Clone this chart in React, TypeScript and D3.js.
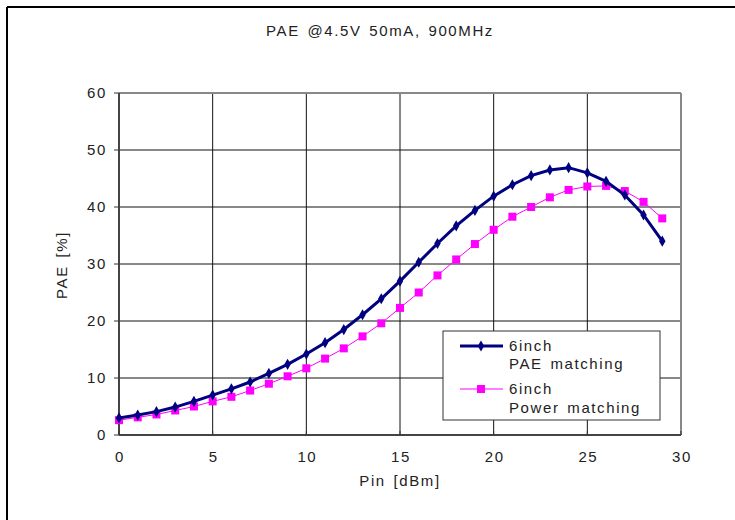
import React from 'react';
import * as d3 from 'd3';

const pinValues = d3.range(0, 30);
const paeMatching = [
  3.0, 3.5, 4.1, 4.9, 5.9, 7.0, 8.1, 9.3, 10.8, 12.4,
  14.2, 16.2, 18.5, 21.1, 23.9, 27.0, 30.3, 33.6, 36.7, 39.4,
  41.9, 43.9, 45.5, 46.5, 46.9, 46.0, 44.5, 42.1, 38.6, 34.0
];
const powerMatching = [
  2.6, 3.1, 3.6, 4.3, 5.0, 5.9, 6.7, 7.8, 9.0, 10.3,
  11.7, 13.4, 15.2, 17.3, 19.6, 22.3, 25.0, 28.0, 30.8, 33.5,
  36.0, 38.3, 40.0, 41.7, 43.0, 43.6, 43.7, 42.8, 40.9, 38.0
];
const xTicks = [0, 5, 10, 15, 20, 25, 30];
const yTicks = [0, 10, 20, 30, 40, 50, 60];

const width = 735;
const height = 520;
const font = 'Liberation Sans, Arial, sans-serif';
const textProps = { fontSize: 15, letterSpacing: 1.6, wordSpacing: 2, fill: '#222' };

export default function App() {
  const x = d3.scaleLinear().domain([0, 30]).range([119, 681]);
  const y = d3.scaleLinear().domain([0, 60]).range([435, 93]);

  const line = d3
    .line<number>()
    .x((d, i) => x(pinValues[i]))
    .y(d => y(d));

  const diamond = d3.symbol().type(d3.symbolDiamond).size(36)();

  return (
    <div style={{ position: 'absolute', left: 0, top: 0 }}>
      <svg width={width} height={height} fontFamily={font}>
        <rect width={width} height={height} fill="#fff" />
        {/* outer frame */}
        <line x1={7} y1={7} x2={735} y2={7} stroke="#000" strokeWidth={2} />
        <line x1={7} y1={7} x2={7} y2={520} stroke="#000" strokeWidth={2} />

        <text x={380} y={36} textAnchor="middle" {...textProps}>
          PAE @4.5V 50mA, 900MHz
        </text>

        {/* grid */}
        {xTicks.slice(1, -1).map(t => (
          <line key={'gx' + t} x1={x(t)} x2={x(t)} y1={y(60)} y2={y(0)} stroke="#111" strokeWidth={1} />
        ))}
        {yTicks.slice(1, -1).map(t => (
          <line key={'gy' + t} x1={x(0)} x2={x(30)} y1={y(t)} y2={y(t)} stroke="#111" strokeWidth={1} />
        ))}
        {/* plot border */}
        <line x1={x(0)} x2={x(30)} y1={y(60)} y2={y(60)} stroke="#888" strokeWidth={2} />
        <line x1={x(30)} x2={x(30)} y1={y(60)} y2={y(0)} stroke="#888" strokeWidth={2} />
        <line x1={x(0)} x2={x(0)} y1={y(60)} y2={y(0)} stroke="#444" strokeWidth={2} />
        <line x1={x(0)} x2={x(30)} y1={y(0)} y2={y(0)} stroke="#444" strokeWidth={2} />

        {/* y ticks */}
        {yTicks.map(t => (
          <g key={'yt' + t}>
            <line x1={x(0) - 5} x2={x(0)} y1={y(t)} y2={y(t)} stroke="#333" />
            <text x={107} y={y(t) + 5} textAnchor="end" {...textProps}>{t}</text>
          </g>
        ))}
        {/* x ticks */}
        {xTicks.map(t => (
          <g key={'xt' + t}>
            <line x1={x(t)} x2={x(t)} y1={y(0)} y2={y(0) - 4} stroke="#333" />
            <text x={x(t) + 1} y={462} textAnchor="middle" {...textProps}>{t}</text>
          </g>
        ))}

        <text x={400} y={486} textAnchor="middle" {...textProps}>Pin [dBm]</text>
        <text transform="translate(67,265) rotate(-90)" textAnchor="middle" {...textProps}>
          PAE [%]
        </text>

        {/* series */}
        <path d={line(powerMatching) || ''} fill="none" stroke="#ff00ff" strokeWidth={1} />
        {powerMatching.map((v, i) => (
          <rect key={'pm' + i} x={x(pinValues[i]) - 4} y={y(v) - 4} width={8} height={8} fill="#ff00ff" />
        ))}
        <path d={line(paeMatching) || ''} fill="none" stroke="#000080" strokeWidth={3} />
        {paeMatching.map((v, i) => (
          <path key={'pa' + i} d={diamond || ''} transform={`translate(${x(pinValues[i])},${y(v)})`} fill="#000080" />
        ))}

        {/* legend */}
        <rect x={443} y={331} width={217} height={89} fill="#fff" stroke="#333" strokeWidth={1} />
        <line x1={460} x2={503} y1={346} y2={346} stroke="#000080" strokeWidth={3} />
        <path d={diamond || ''} transform="translate(481,346)" fill="#000080" />
        <text x={509} y={351} {...textProps}>6inch</text>
        <text x={509} y={369} {...textProps}>PAE matching</text>
        <line x1={460} x2={503} y1={389} y2={389} stroke="#ff00ff" strokeWidth={1} />
        <rect x={477} y={385} width={8} height={8} fill="#ff00ff" />
        <text x={509} y={394} {...textProps}>6inch</text>
        <text x={509} y={413} {...textProps}>Power matching</text>
      </svg>
    </div>
  );
}
